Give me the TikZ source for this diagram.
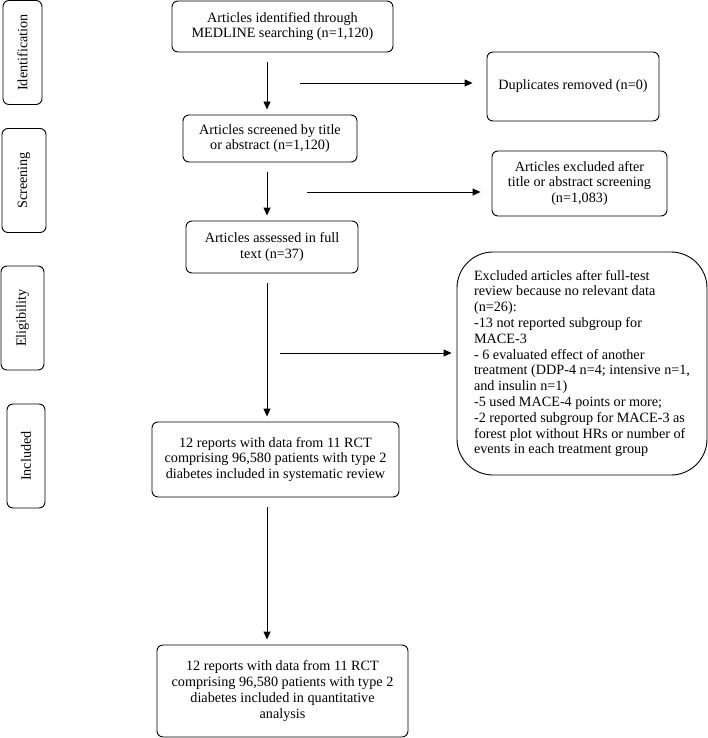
\documentclass[tikz,border=0pt]{standalone}
\usepackage{fontspec}
\setmainfont{Liberation Serif}
\usetikzlibrary{arrows.meta}

\begin{document}
\begin{tikzpicture}[x=1pt,y=-1pt]
		\tikzstyle{every node}+=[inner sep=0pt,font=\fontsize{14.2}{15.8}\selectfont]
		\tikzstyle{box}=[draw=black,line width=0.9pt,rounded corners=6pt,align=center]
		\tikzstyle{stage}=[box,rotate=90,minimum width=104pt]
		\tikzstyle{flow}=[black,line width=0.9pt,-{Triangle[length=8pt,width=7pt]}]
		\tikzstyle{down}=[flow,shorten <=10pt,shorten >=5pt]
		\useasboundingbox (0,0) rectangle (708,738);
		\node [stage,minimum height=39pt] (ident) at (22.5,52.5) {Identification};
		\node [stage,minimum height=44pt] (screen) at (24,180.5) {Screening};
		\node [stage,minimum height=43pt] (elig) at (22.5,318) {Eligibility};
		\node [stage,minimum height=38pt] (incl) at (26,456) {Included};
		\node [box,minimum width=221pt,minimum height=51pt] (found) at (282.5,26.5) {Articles identified through\\MEDLINE searching (n=1,120)};
		\node [box,minimum width=174pt,minimum height=47pt] (screened) at (270,138.5) {Articles screened by title\\or abstract (n=1,120)};
		\node [box,minimum width=172pt,minimum height=52pt] (assessed) at (272,247) {Articles assessed in full\\text (n=37)};
		\node [box,minimum width=247pt,minimum height=75pt] (review) at (275.5,459.5) {12 reports with data from 11 RCT\\comprising 96,580 patients with type 2\\diabetes included in systematic review};
		\node [box,minimum width=251pt,minimum height=92pt] (quant) at (282.5,691) {12 reports with data from 11 RCT\\comprising 96,580 patients with type 2\\diabetes included in quantitative\\analysis};
		\node [box,minimum width=172pt,minimum height=69pt] (dupl) at (573,86.5) {Duplicates removed (n=0)};
		\node [box,minimum width=175pt,minimum height=65pt] (excl) at (579.5,183.5) {Articles excluded after\\title or abstract screening\\(n=1,083)};
		\node [box,rounded corners=36pt,align=left,minimum width=250pt,minimum height=223pt] (fulltext) at (582,363.5) {Excluded articles after full-test\\review because no relevant data\\(n=26):\\-13 not reported subgroup for\\MACE-3\\- 6 evaluated effect of another\\treatment (DDP-4 n=4; intensive n=1,\\and insulin n=1)\\-5 used MACE-4 points or more;\\-2 reported subgroup for MACE-3 as\\forest plot without HRs or number of\\events in each treatment group};
		\coordinate (col) at (267,0);
		\coordinate (h1) at (300,83);
		\coordinate (h2) at (307,192);
		\coordinate (h3) at (280,353);
		\draw [down] (found.south -| col) -- (screened.north -| col);
		\draw [down] (screened.south -| col) -- (assessed.north -| col);
		\draw [down] (assessed.south -| col) -- (review.north -| col);
		\draw [down] (review.south -| col) -- (quant.north -| col);
		\draw [flow,shorten >=14pt] (h1) -- (dupl.west |- h1);
		\draw [flow,shorten >=11pt] (h2) -- (excl.west |- h2);
		\draw [flow,shorten >=5pt] (h3) -- (fulltext.west |- h3);
\end{tikzpicture}
\end{document}
